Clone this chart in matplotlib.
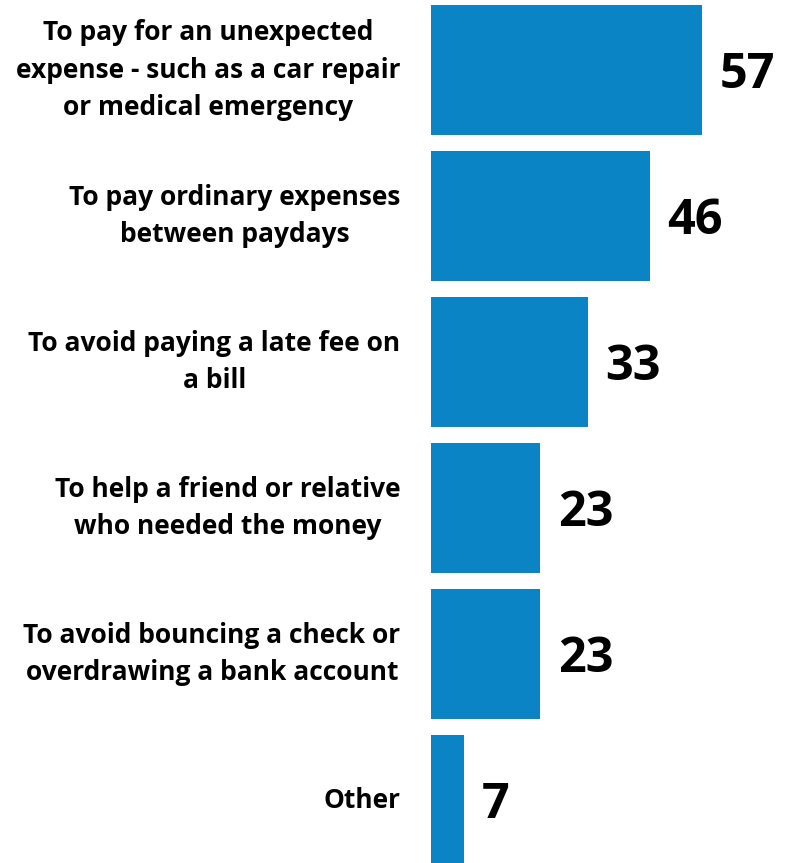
import matplotlib.pyplot as plt

categories = [
    "To pay for an unexpected\nexpense - such as a car repair\nor medical emergency",
    "To pay ordinary expenses\nbetween paydays",
    "To avoid paying a late fee on\na bill",
    "To help a friend or relative\nwho needed the money",
    "To avoid bouncing a check or\noverdrawing a bank account",
    "Other",
]
values = [57, 46, 33, 23, 23, 7]

bar_color = "#0A84C4"
font = "Open Sans"

fig = plt.figure(figsize=(7.86, 8.63), dpi=100)
ax = fig.add_axes([431 / 786, 0, 1 - 431 / 786, 1])

pos = list(range(len(values)))
ax.barh(pos, values, height=0.89, color=bar_color)

ax.set_xlim(0, 355 / 4.76)
ax.set_ylim((863 - 70) / 146, -70 / 146)

ax.set_yticks(pos)
ax.set_yticklabels(categories, fontsize=19, fontweight="bold", family=font)
for lbl in ax.get_yticklabels():
    lbl.set_multialignment("center")
    lbl.set_linespacing(1.5)
    lbl.set_verticalalignment("center")
ax.tick_params(axis="y", length=0, pad=22)
ax.set_xticks([])
for s in ax.spines.values():
    s.set_visible(False)

for p, v in zip(pos, values):
    ax.text(v + 3.6, p + 0.04, str(v), va="center", ha="left",
            fontsize=35, fontweight="bold", family=font)

fig.savefig("out.png", dpi=100)
